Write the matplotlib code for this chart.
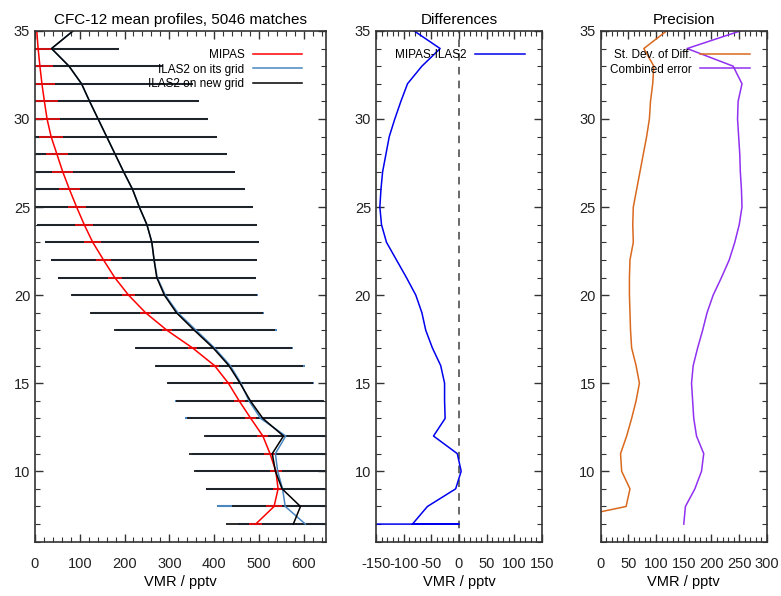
import matplotlib.pyplot as plt
from matplotlib.ticker import MultipleLocator
import numpy as np

plt.rcParams['font.family'] = ['Liberation Sans', 'DejaVu Sans']
plt.rcParams['axes.unicode_minus'] = False

# altitude levels (km), top to bottom
alt = [35, 34, 33, 32, 31, 30, 29, 28, 27, 26, 25, 24, 23, 22, 21, 20, 19, 18,
       17, 16, 15, 14, 13, 12, 11, 10, 9, 8, 7]

# mean profiles (pptv)
mipas = [4, 7, 11, 15.5, 21, 27, 36, 49, 62, 77, 93, 110, 129, 153, 178, 209, 247, 295,
         352, 401, 432, 456, 482, 509, 525, 538, 543, 534, 493]
mipas_err = [np.nan, 30, 30, 30, 30, 28, 27, 25, 24, 23, 20, 20, 19, 17, 15.5, 14.5, 12, 12,
             10, 10, 11, 12, 12, 12, 13, 14, 11, 18, 14]
ilas_new = [85, 37, 76, 104, 122, 141, 160, 179, 198, 218, 233, 250, 261, 266, 272, 289, 316, 356,
            398, 433, 458, 481, 509, 555, 530, 537, 552, 593, 577]
ilas_own = [85, 37, 76, 104, 122, 141, 160, 179, 198, 218, 233, 250, 261, 266, 273, 291, 319, 360,
            401, 436, 460, 478, 504, 560, 537, 542, 553, 559, 604]
ilas_err = [np.nan, 150, 210, 249, 245, 246, 247, 251, 248, 250, 254, 246, 239, 230, 221, 208, 193, 180,
            175, 166, 164, 165, 170, 178, 186, 182, 171, 153, 150]

# differences MIPAS-ILAS2
diff_alt = alt + [7, 7]
diff = [-81, -34, -67, -93, -105, -116, -126, -132, -138, -141, -143, -140, -131, -113, -95, -78,
        -67, -60, -48, -33, -26, -26, -25, -46, -3, 4, -6, -57, -84, 0, -160]

# precision
sd_diff = [119, 78, 96, 94, 90, 88, 83, 77, 71, 65, 59, 58, 59, 53, 52, 52, 53, 54,
           56, 64, 70, 64, 56, 47, 36, 38, 53, 46, -106]
comb_err = [252, 156, 239, 255, 248, 247, 249, 251, 252, 254, 255, 250, 242, 232, 218, 203, 192, 184,
            175, 167, 164, 166, 168, 173, 186, 182, 170, 153, 150]

fig = plt.figure(figsize=(7.81, 5.96), dpi=100)
ax1 = fig.add_axes([0.0448, 0.0911, 0.3726, 0.857])
ax2 = fig.add_axes([0.4814, 0.0911, 0.2125, 0.857])
ax3 = fig.add_axes([0.769, 0.0911, 0.213, 0.857])

leg_kw = dict(loc='upper right', markerfirst=False, frameon=False, fontsize=8.5,
              handlelength=4.2, handletextpad=0.7, labelspacing=0.2)

# panel 1
ax1.errorbar(ilas_own, alt, xerr=ilas_err, fmt='none', ecolor='#4a86c0', elinewidth=1.5, capsize=0)
ax1.errorbar(ilas_new, alt, xerr=ilas_err, fmt='none', ecolor='#1a1a1a', elinewidth=1.3, capsize=0)
ax1.errorbar(mipas, alt, xerr=mipas_err, fmt='none', ecolor='#e01010', elinewidth=1.3, capsize=0)
ax1.plot(mipas, alt, color='red', lw=1.1, label='MIPAS')
ax1.plot(ilas_own, alt, color='#4a86c0', lw=1.1, label='ILAS2 on its grid')
ax1.plot(ilas_new, alt, color='black', lw=1.1, label='ILAS2 on new grid')
ax1.set_xlim(0, 650)
ax1.xaxis.set_major_locator(MultipleLocator(100))
ax1.xaxis.set_minor_locator(MultipleLocator(20))
ax1.set_title('CFC-12 mean profiles, 5046 matches', fontsize=11, pad=5)
ax1.legend(bbox_to_anchor=(0.955, 0.985), **leg_kw)

# panel 2
ax2.axvline(0, color='#404040', ls=(0, (5, 4)), lw=1.1)
ax2.plot(diff, diff_alt, color='#0000ee', lw=1.1, label='MIPAS-ILAS2')
ax2.set_xlim(-150, 150)
ax2.xaxis.set_major_locator(MultipleLocator(50))
ax2.xaxis.set_minor_locator(MultipleLocator(10))
ax2.set_title('Differences', fontsize=11, pad=5)
ax2.legend(bbox_to_anchor=(0.96, 0.985), **leg_kw)

# panel 3
ax3.plot(sd_diff, alt, color='#d9691e', lw=1.1, label='St. Dev. of Diff.')
ax3.plot(comb_err, alt, color='#9030f0', lw=1.1, label='Combined error')
ax3.set_xlim(0, 300)
ax3.xaxis.set_major_locator(MultipleLocator(50))
ax3.xaxis.set_minor_locator(MultipleLocator(10))
ax3.set_title('Precision', fontsize=11, pad=5)
ax3.legend(bbox_to_anchor=(0.96, 0.985), **leg_kw)

for ax in (ax1, ax2, ax3):
    ax.set_ylim(6, 35)
    ax.yaxis.set_major_locator(MultipleLocator(5))
    ax.yaxis.set_minor_locator(MultipleLocator(1))
    ax.tick_params(which='both', direction='in', top=True, right=True, labelsize=10.5,
                   color='#333333', labelcolor='#222222')
    ax.tick_params(which='major', length=6, width=1)
    ax.tick_params(which='minor', length=3.5, width=0.8)
    ax.tick_params(axis='x', which='major', pad=11)
    ax.set_xlabel('VMR / pptv', fontsize=10.5, labelpad=3)
    for s in ax.spines.values():
        s.set_linewidth(1.2)
        s.set_color('#333333')

fig.savefig('out.png', dpi=100)
